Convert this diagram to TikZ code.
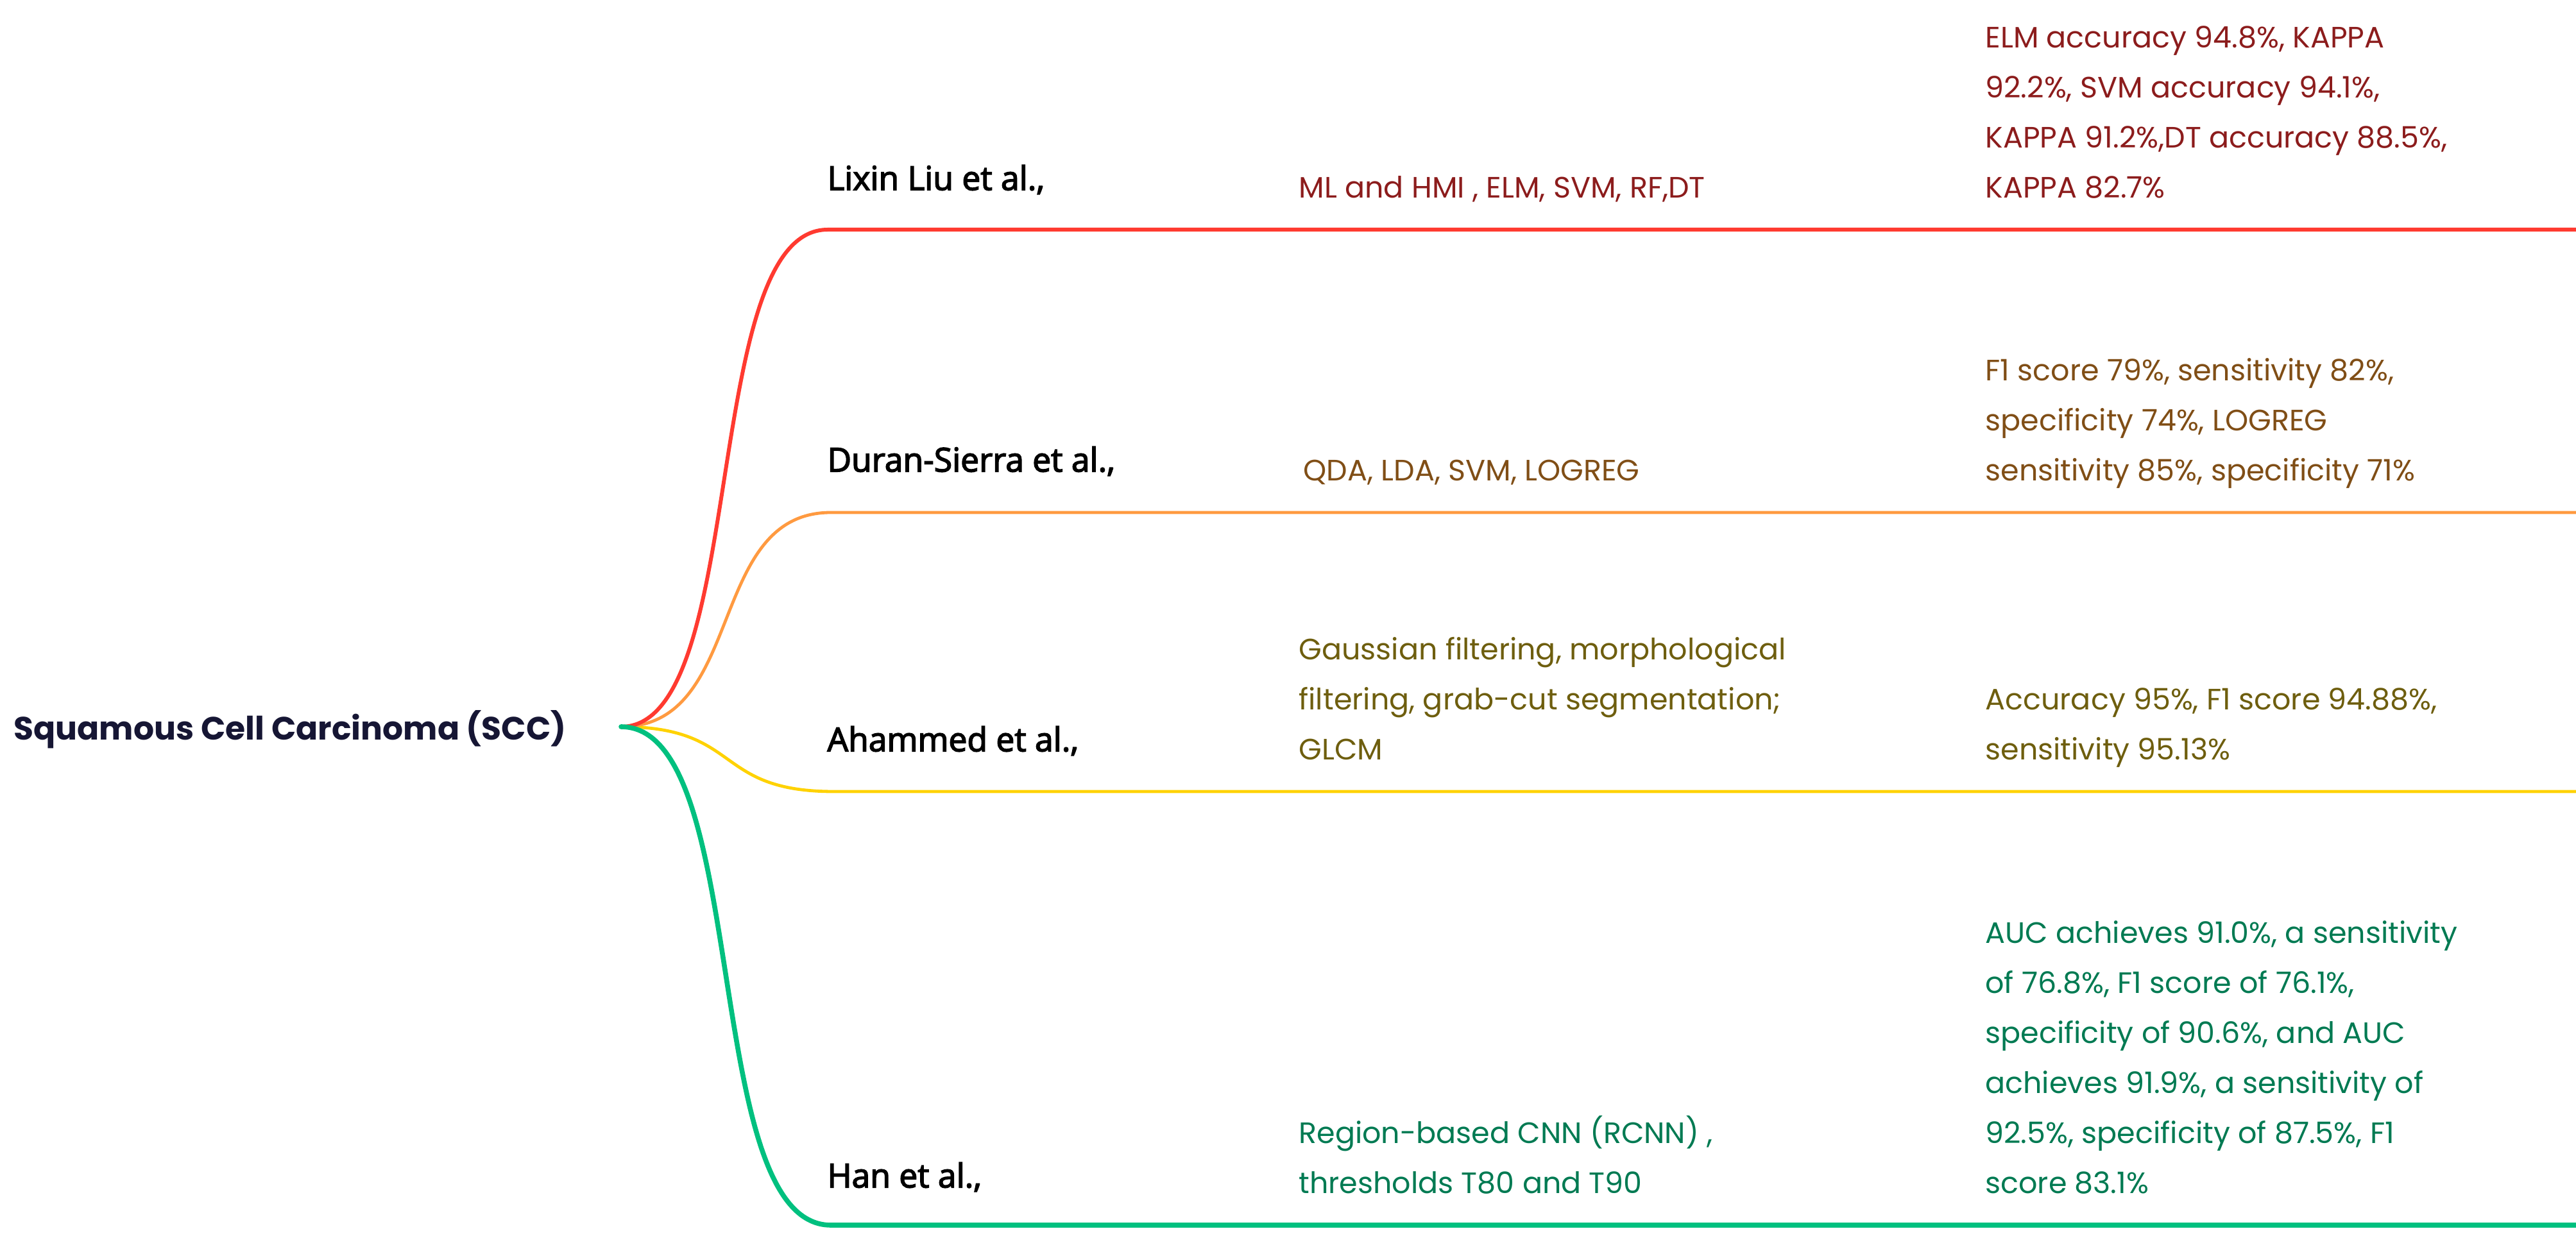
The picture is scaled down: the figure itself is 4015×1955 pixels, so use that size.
\documentclass[tikz,border=0pt]{standalone}
\usepackage{fontspec}
\setmainfont{Poppins}
\newfontfamily\authorfont{Open Sans}[FakeBold=3]

\definecolor{rootnavy}{RGB}{22,22,52}
\definecolor{lnred}{RGB}{255,58,48}
\definecolor{lnorange}{RGB}{255,154,64}
\definecolor{lnyellow}{RGB}{255,210,0}
\definecolor{lngreen}{RGB}{0,192,127}
\definecolor{txred}{RGB}{140,28,28}
\definecolor{txorange}{RGB}{128,78,22}
\definecolor{txyellow}{RGB}{110,94,14}
\definecolor{txgreen}{RGB}{0,122,82}

\tikzset{every picture/.style={line width=0.75pt}}
\tikzset{
  rootlabel/.style={anchor=west,inner sep=0pt,text=rootnavy,font=\fontsize{12.6}{15}\selectfont\bfseries},
  authorlabel/.style={anchor=west,inner sep=0pt,font=\authorfont\fontsize{12.9}{15}\selectfont},
  branchtext/.style={anchor=south west,inner sep=0pt,align=left,font=\fontsize{11.5}{19.5}\selectfont,execute at end node=\strut},
  branchline/.style={line cap=round,line join=round}
}

\begin{document}
\begin{tikzpicture}[x=0.25pt,y=0.25pt,yscale=-1,xscale=1]
\useasboundingbox (0,0) rectangle (4015,1955);

% Text Node
\node [rootlabel] (root) at (20,1137) {Squamous Cell Carcinoma (SCC)};
\coordinate (hub) at (968,1133);

% Text Node
\node [authorlabel] (liu) at (1288,280) {Lixin Liu et al.,};
\node [branchtext,text=txred] (liumeth) at (2023,333) {ML and HMI , ELM, SVM, RF,DT};
\node [branchtext,text=txred] (liures) at (3093,333) {ELM accuracy 94.8\%, KAPPA\\92.2\%, SVM accuracy 94.1\%,\\KAPPA 91.2\%,DT accuracy 88.5\%,\\KAPPA 82.7\%};
% Text Node
\node [authorlabel] (duran) at (1288,719) {Duran-Sierra et al.,};
\node [branchtext,text=txorange] (duranmeth) at (2030,774) {QDA, LDA, SVM, LOGREG};
\node [branchtext,text=txorange] (duranres) at (3093,774) {F1 score 79\%, sensitivity 82\%,\\specificity 74\%, LOGREG\\sensitivity 85\%, specificity 71\%};
% Text Node
\node [authorlabel] (ahammed) at (1288,1155) {Ahammed et al.,};
\node [branchtext,text=txyellow] (ahammedmeth) at (2023,1209) {Gaussian filtering, morphological\\filtering, grab-cut segmentation;\\GLCM};
\node [branchtext,text=txyellow] (ahammedres) at (3093,1209) {Accuracy 95\%, F1 score 94.88\%,\\sensitivity 95.13\%};
% Text Node
\node [authorlabel] (han) at (1288,1835) {Han et al.,};
\node [branchtext,text=txgreen] (hanmeth) at (2023,1885) {Region-based CNN (RCNN) ,\\thresholds T80 and T90};
\node [branchtext,text=txgreen] (hanres) at (3093,1885) {AUC achieves 91.0\%, a sensitivity\\of 76.8\%, F1 score of 76.1\%,\\specificity of 90.6\%, and AUC\\achieves 91.9\%, a sensitivity of\\92.5\%, specificity of 87.5\%, F1\\score 83.1\%};

% branch ends
\coordinate (liuA) at (1290,358);   \coordinate (liuB) at (4015,358);
\coordinate (duranA) at (1295,799); \coordinate (duranB) at (4015,799);
\coordinate (ahammedA) at (1300,1234); \coordinate (ahammedB) at (4015,1234);
\coordinate (hanA) at (1295,1910);  \coordinate (hanB) at (4015,1910);

% Connection
\draw [branchline,lnyellow,line width=1.2pt] (hub) .. controls +(190,0) and +(-190,0) .. (ahammedA) -- (ahammedB);
% Connection
\draw [branchline,lnorange,line width=1.2pt] (hub) .. controls +(195,0) and +(-195,0) .. (duranA) -- (duranB);
% Connection
\draw [branchline,lnred,line width=1.5pt] (hub) .. controls +(200,0) and +(-200,0) .. (liuA) -- (liuB);
% Connection
\draw [branchline,lngreen,line width=1.9pt] (hub) .. controls +(205,0) and +(-205,0) .. (hanA) -- (hanB);

\end{tikzpicture}
\end{document}
